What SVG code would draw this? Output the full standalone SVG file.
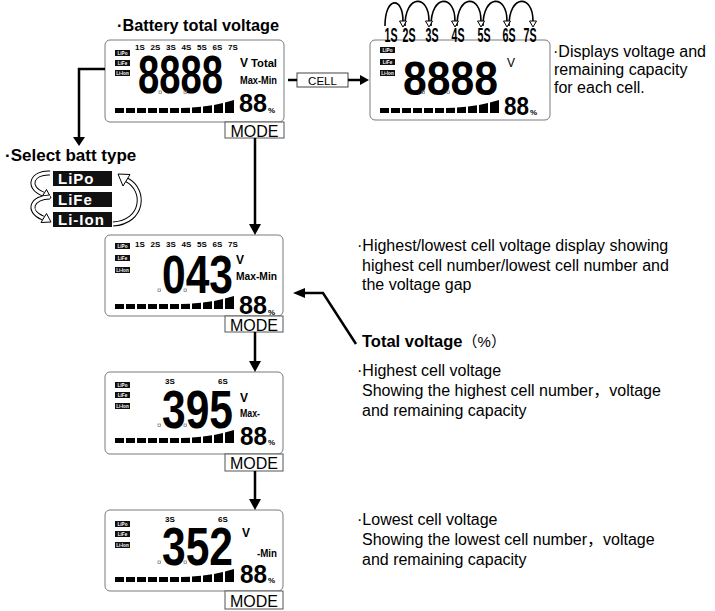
<svg xmlns="http://www.w3.org/2000/svg" xmlns:xlink="http://www.w3.org/1999/xlink" width="715" height="611" viewBox="0 0 715 611">
<style>
text{font-family:"Liberation Sans","Noto Sans CJK SC",sans-serif;fill:#000}
.lcd{fill:#fff;stroke:#7a7a7a;stroke-width:1}
.mode{fill:#fff;stroke:#555;stroke-width:1}
.modet{font-size:16px;text-anchor:middle}
.dig{font-weight:bold;font-size:53px}
.pct{font-weight:bold;font-size:26px}
.sm{font-weight:bold;font-size:8px}
.v{font-weight:bold;font-size:12px}
.lab{font-weight:bold;font-size:11.5px}
.dot{fill:none;stroke:#888;stroke-width:0.8}
.tg{font-weight:bold;font-size:4.6px;fill:#fff;text-anchor:middle}
.title{font-weight:bold;font-size:16.3px}
.desc{font-size:16px}
.ln{fill:none;stroke:#000;stroke-width:2.5}
.arc{fill:none;stroke:#000;stroke-width:1.6}
.tri{fill:#fff;stroke:#000;stroke-width:1}
.big{font-weight:bold;font-size:20px;text-anchor:middle}
.bt{font-weight:bold;font-size:15px;fill:#fff;letter-spacing:1px}
.tube1{fill:none;stroke:#000;stroke-width:5;stroke-linecap:butt}
.tube2{fill:none;stroke:#fff;stroke-width:3}
</style>
<defs>
<g id="bar">
<rect x="0" y="-5" width="9" height="5"/>
<rect x="11" y="-5" width="9" height="5"/>
<rect x="22" y="-5" width="9" height="5"/>
<rect x="33" y="-5" width="9" height="5"/>
<rect x="44" y="-5" width="9" height="5"/>
<rect x="55" y="-5" width="9" height="5"/>
<polygon points="66,0 75,0 75,-5.3 66,-5"/>
<polygon points="77,0 86,0 86,-6.2 77,-5.4"/>
<polygon points="88,0 97,0 97,-7.8 88,-6.4"/>
<polygon points="99,0 108,0 108,-10 99,-8.1"/>
<polygon points="110,0 119,0 119,-13 110,-10.5"/>
</g>
<g id="tLiPo"><rect width="15" height="6" fill="#111"/><text x="7.5" y="4.8" class="tg">LiPo</text></g>
<g id="tLiFe"><rect width="15" height="6" fill="#111"/><text x="7.5" y="4.8" class="tg">LiFe</text></g>
<g id="tLiIon"><rect width="15" height="6" fill="#111"/><text x="7.5" y="4.8" class="tg">Li-Ion</text></g>
</defs>
<rect width="715" height="611" fill="#fff"/>

<!-- Titles and descriptions -->
<text class="title" x="117" y="31">·Battery total voltage</text>
<text class="title" x="5" y="161" style="font-size:17px">·Select batt type</text>
<g id="desc-cell">
<text class="desc" x="553" y="57">·Displays voltage and</text>
<text class="desc" x="554" y="75">remaining capacity</text>
<text class="desc" x="554" y="93">for each cell.</text>
</g>
<g id="desc-gap">
<text class="desc" x="357" y="251">·Highest/lowest cell voltage display showing</text>
<text class="desc" x="362" y="271">highest cell number/lowest cell number and</text>
<text class="desc" x="362" y="290">the voltage gap</text>
</g>
<g id="total-voltage-label">
<text x="362" y="347" style="font-weight:bold;font-size:16.5px">Total voltage<tspan style="font-weight:normal;font-size:15px">（%）</tspan></text>
</g>
<g id="desc-high">
<text class="desc" x="357" y="376">·Highest cell voltage</text>
<text class="desc" x="362" y="396">Showing the highest cell number，voltage</text>
<text class="desc" x="362" y="416">and remaining capacity</text>
</g>
<g id="desc-low">
<text class="desc" x="357" y="525">·Lowest cell voltage</text>
<text class="desc" x="362" y="545">Showing the lowest cell number，voltage</text>
<text class="desc" x="362" y="565">and remaining capacity</text>
</g>

<!-- LCD 1: total voltage -->
<g id="lcd-total">
<rect class="lcd" x="105" y="40" width="179" height="82" rx="5"/>
<rect class="mode" x="225" y="122" width="59" height="16"/>
<text class="modet" x="254.5" y="136.5">MODE</text>
<use xlink:href="#tLiPo" x="115" y="50"/>
<use xlink:href="#tLiFe" x="115" y="60"/>
<use xlink:href="#tLiIon" x="115" y="70"/>
<text class="sm" x="135" y="50">1S</text><text class="sm" x="150.5" y="50">2S</text><text class="sm" x="166" y="50">3S</text><text class="sm" x="181.5" y="50">4S</text><text class="sm" x="197" y="50">5S</text><text class="sm" x="212.5" y="50">6S</text><text class="sm" x="228" y="50">7S</text>
<text class="dig" x="138" y="93" textLength="85" lengthAdjust="spacingAndGlyphs">8888</text>
<rect class="dot" x="159" y="91" width="2.5" height="2.5"/><rect class="dot" x="184" y="91" width="2.5" height="2.5"/>
<text class="v" x="240" y="67">V</text>
<text class="lab" x="251" y="67" textLength="26" lengthAdjust="spacingAndGlyphs">Total</text>
<text class="lab" x="240" y="84" textLength="37" lengthAdjust="spacingAndGlyphs">Max-Min</text>
<text class="pct" x="239" y="112" textLength="28" lengthAdjust="spacingAndGlyphs">88</text>
<text class="sm" x="268" y="113">%</text>
<use xlink:href="#bar" transform="translate(115,113)"/>
</g>

<!-- Cell LCD -->
<g id="lcd-cell">
<rect class="lcd" x="370" y="40" width="180" height="80" rx="5"/>
<use xlink:href="#tLiPo" x="380" y="47"/>
<use xlink:href="#tLiFe" x="380" y="59"/>
<use xlink:href="#tLiIon" x="380" y="70"/>
<text class="dig" x="403" y="95" style="font-size:49px" textLength="95" lengthAdjust="spacingAndGlyphs">8888</text>
<rect class="dot" x="422" y="91" width="2.5" height="2.5"/><rect class="dot" x="447" y="91" width="2.5" height="2.5"/>
<text x="507" y="67" style="font-size:12px">V</text>
<text class="pct" x="504" y="115" textLength="25" lengthAdjust="spacingAndGlyphs">88</text>
<text class="sm" x="530" y="115">%</text>
<use xlink:href="#bar" transform="translate(380,113)"/>
</g>
<g id="cell-labels">
<text class="big" x="391" y="42" textLength="13" lengthAdjust="spacingAndGlyphs">1S</text>
<text class="big" x="409" y="42" textLength="13" lengthAdjust="spacingAndGlyphs">2S</text>
<text class="big" x="432" y="42" textLength="13" lengthAdjust="spacingAndGlyphs">3S</text>
<text class="big" x="458" y="42" textLength="13" lengthAdjust="spacingAndGlyphs">4S</text>
<text class="big" x="484" y="42" textLength="13" lengthAdjust="spacingAndGlyphs">5S</text>
<text class="big" x="509" y="42" textLength="13" lengthAdjust="spacingAndGlyphs">6S</text>
<text class="big" x="530" y="42" textLength="13" lengthAdjust="spacingAndGlyphs">7S</text>
</g>

<!-- CELL button -->
<g id="cell-button">
<rect x="297" y="73" width="51" height="14" fill="#fff" stroke="#444" stroke-width="1"/>
<text x="322.5" y="84.5" style="font-size:11.5px;text-anchor:middle">CELL</text>
</g>

<!-- Select batt type -->
<g id="batt-type">
<rect x="53" y="171" width="59" height="15" fill="#111"/>
<text class="bt" x="58" y="184">LiPo</text>
<rect x="53" y="192" width="59" height="15" fill="#111"/>
<text class="bt" x="58" y="205">LiFe</text>
<rect x="53" y="212" width="59" height="15" fill="#111"/>
<text class="bt" x="58" y="225">Li-Ion</text>
</g>

<!-- LCD 2 -->
<g id="lcd-gap">
<rect class="lcd" x="105" y="235" width="178" height="81" rx="5"/>
<rect class="mode" x="225" y="316" width="58" height="16"/>
<text class="modet" x="254" y="330.5">MODE</text>
<use xlink:href="#tLiPo" x="115" y="243"/>
<use xlink:href="#tLiFe" x="115" y="255"/>
<use xlink:href="#tLiIon" x="115" y="267"/>
<text class="sm" x="135" y="247">1S</text><text class="sm" x="150.5" y="247">2S</text><text class="sm" x="166" y="247">3S</text><text class="sm" x="181.5" y="247">4S</text><text class="sm" x="197" y="247">5S</text><text class="sm" x="212.5" y="247">6S</text><text class="sm" x="228" y="247">7S</text>
<text class="dig" x="162" y="293" textLength="71" lengthAdjust="spacingAndGlyphs">043</text>
<rect class="dot" x="158" y="289" width="2.5" height="2.5"/><rect class="dot" x="184" y="289" width="2.5" height="2.5"/>
<text class="v" x="236" y="264">V</text>
<text class="lab" x="236" y="280" textLength="41" lengthAdjust="spacingAndGlyphs">Max-Min</text>
<text class="pct" x="239" y="314" textLength="28" lengthAdjust="spacingAndGlyphs">88</text>
<text class="sm" x="268" y="315">%</text>
<use xlink:href="#bar" transform="translate(115,309)"/>
</g>

<!-- LCD 3 -->
<g id="lcd-high">
<rect class="lcd" x="105" y="372" width="178" height="82" rx="5"/>
<rect class="mode" x="225" y="454" width="58" height="17"/>
<text class="modet" x="254" y="469">MODE</text>
<use xlink:href="#tLiPo" x="115" y="382"/>
<use xlink:href="#tLiFe" x="115" y="392"/>
<use xlink:href="#tLiIon" x="115" y="403"/>
<text class="sm" x="165" y="384">3S</text><text class="sm" x="218" y="384">6S</text>
<text class="dig" x="162" y="428" textLength="71" lengthAdjust="spacingAndGlyphs">395</text>
<rect class="dot" x="158" y="424" width="2.5" height="2.5"/><rect class="dot" x="184" y="424" width="2.5" height="2.5"/>
<text class="v" x="240" y="402">V</text>
<text class="lab" x="240" y="417" textLength="20" lengthAdjust="spacingAndGlyphs">Max-</text>
<text class="pct" x="240" y="445" textLength="27" lengthAdjust="spacingAndGlyphs">88</text>
<text class="sm" x="268" y="445">%</text>
<use xlink:href="#bar" transform="translate(115,443)"/>
</g>

<!-- LCD 4 -->
<g id="lcd-low">
<rect class="lcd" x="105" y="510" width="178" height="81" rx="5"/>
<rect class="mode" x="225" y="591" width="58" height="18"/>
<text class="modet" x="254" y="606.5">MODE</text>
<use xlink:href="#tLiPo" x="115" y="521"/>
<use xlink:href="#tLiFe" x="115" y="531"/>
<use xlink:href="#tLiIon" x="115" y="542"/>
<text class="sm" x="165" y="522">3S</text><text class="sm" x="218" y="522">6S</text>
<text class="dig" x="162" y="565" textLength="71" lengthAdjust="spacingAndGlyphs">352</text>
<rect class="dot" x="158" y="561" width="2.5" height="2.5"/><rect class="dot" x="184" y="561" width="2.5" height="2.5"/>
<text class="v" x="242" y="537">V</text>
<text class="lab" x="257" y="557" textLength="20" lengthAdjust="spacingAndGlyphs">-Min</text>
<text class="pct" x="240" y="583" textLength="27" lengthAdjust="spacingAndGlyphs">88</text>
<text class="sm" x="268" y="583">%</text>
<use xlink:href="#bar" transform="translate(115,582)"/>
</g>

<!-- Connectors -->
<g id="connectors">
<path class="ln" d="M105,69 H79 V138"/>
<polygon points="73,137 85,137 79,146"/>
<path class="ln" d="M288,80 H297"/>
<path class="ln" d="M348,80 H361"/>
<polygon points="360,75 369,80 360,85"/>
<path class="ln" d="M255,138 V226"/>
<polygon points="249,224 261,224 255,235"/>
<path class="ln" d="M255,332 V363"/>
<polygon points="249,361 261,361 255,372"/>
<path class="ln" d="M255,471 V501"/>
<polygon points="249,499 261,499 255,510"/>
<path class="ln" d="M356,344 L323,293 H304"/>
<polygon points="305,288 293,293 305,298"/>
<!-- cell cycle arcs -->
<path class="arc" d="M385,26 C385,-4 403,-4 403,21"/>
<path class="arc" d="M405,26 C405,-6 429,-6 429,21"/>
<path class="arc" d="M431,26 C431,-6 455,-6 455,21"/>
<path class="arc" d="M457,26 C457,-6 481,-6 481,21"/>
<path class="arc" d="M483,26 C483,-6 507,-6 507,21"/>
<path class="arc" d="M509,26 C509,-6 533,-6 533,21"/>
<polygon class="tri" points="399.5,21 406.5,21 403,27"/>
<polygon class="tri" points="425.5,21 432.5,21 429,27"/>
<polygon class="tri" points="451.5,21 458.5,21 455,27"/>
<polygon class="tri" points="477.5,21 484.5,21 481,27"/>
<polygon class="tri" points="503.5,21 510.5,21 507,27"/>
<polygon class="tri" points="529.5,21 536.5,21 533,27"/>
<!-- batt type cycle arrows -->
<path class="tube1" d="M50,173 C32,172 26,187 43,194"/>
<path class="tube2" d="M50,173 C32,172 26,187 43,194"/>
<polygon class="tri" points="51,198 46.5,189.5 41,198.5"/>
<path class="tube1" d="M50,197 C32,197 26,211 43,218"/>
<path class="tube2" d="M50,197 C32,197 26,211 43,218"/>
<polygon class="tri" points="51,222 46.5,213.5 41,222.5"/>
<path class="tube1" d="M113,224 C144,222 146,190 127,180"/>
<path class="tube2" d="M113,224 C144,222 146,190 127,180"/>
<polygon class="tri" points="118,174 130,174.5 123,186"/>
</g>
</svg>
